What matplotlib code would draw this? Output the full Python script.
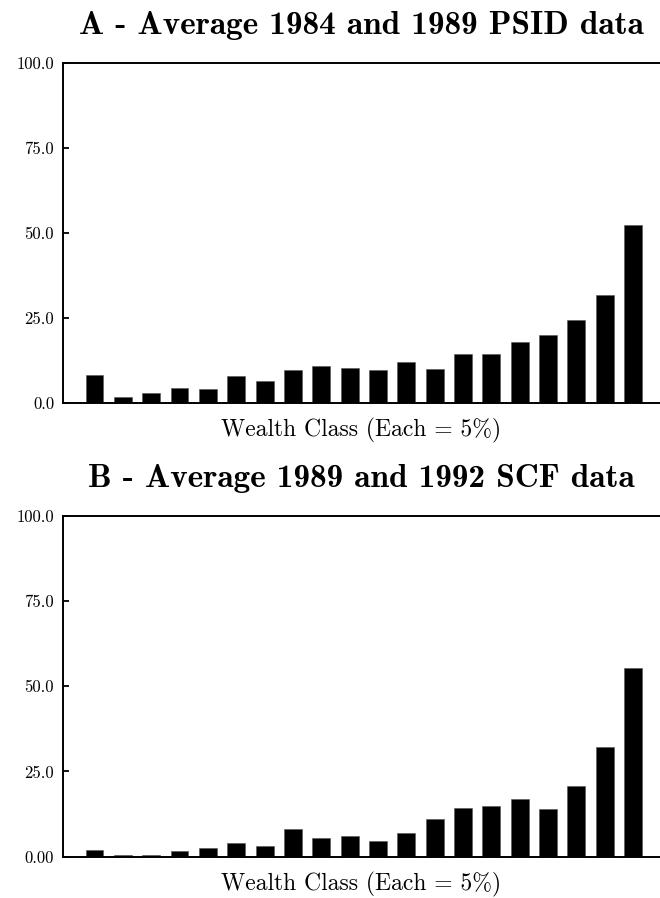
import matplotlib
matplotlib.use("Agg")
import matplotlib.pyplot as plt

plt.rcParams['font.family'] = ['cmr10', 'DejaVu Serif']
plt.rcParams['mathtext.fontset'] = 'cm'
plt.rcParams['axes.formatter.use_mathtext'] = True

# share of wealth class (each = 5%), panel A: PSID, panel B: SCF
psid_values = [8.35, 1.9, 3.05, 4.4, 4.2, 7.85, 6.5, 9.6, 10.8, 10.4,
               9.8, 12.0, 10.0, 14.4, 14.3, 17.85, 19.9, 24.4, 31.6, 52.3]
scf_values = [2.0, 0.35, 0.35, 1.6, 2.55, 3.9, 2.95, 8.1, 5.3, 6.0,
              4.7, 7.0, 11.1, 14.2, 14.9, 16.8, 14.1, 20.6, 32.3, 55.5]

yticks = [0, 25, 50, 75, 100]
yticklabels_a = ['0.0', '25.0', '50.0', '75.0', '100.0']
yticklabels_b = ['0.00', '25.0', '50.0', '75.0', '100.0']

titles = ['A - Average 1984 and 1989 PSID data',
          'B - Average 1989 and 1992 SCF data']
xlabel = 'Wealth Class (Each = 5%)'

fig = plt.figure(figsize=(6.6, 8.98), dpi=100)
ax_a = fig.add_axes([0.0955, 0.5512, 0.9045, 0.3790])
ax_b = fig.add_axes([0.0955, 0.0462, 0.9045, 0.3790])

panels = [(ax_a, psid_values, yticklabels_a, titles[0]),
          (ax_b, scf_values, yticklabels_b, titles[1])]

for ax, values, ylabels, title in panels:
    x = list(range(len(values)))
    ax.bar(x, values, width=0.63, color='black', edgecolor='#555555', linewidth=0.4)
    ax.set_xlim(-1.11, 19.95)
    ax.set_ylim(0, 100)
    ax.set_xticks([])
    ax.set_yticks(yticks)
    ax.set_yticklabels(ylabels)
    ax.tick_params(axis='y', direction='in', length=4, width=1.3, labelsize=12, pad=6.5)
    ax.spines['right'].set_visible(False)
    for s in ['left', 'bottom', 'top']:
        ax.spines[s].set_linewidth(1.4)
    ax.set_title(title, family=['cmb10', 'DejaVu Serif'], fontsize=24, pad=21)
    ax.set_xlabel(xlabel, fontsize=17, labelpad=11)

fig.savefig('out.png', dpi=100)
